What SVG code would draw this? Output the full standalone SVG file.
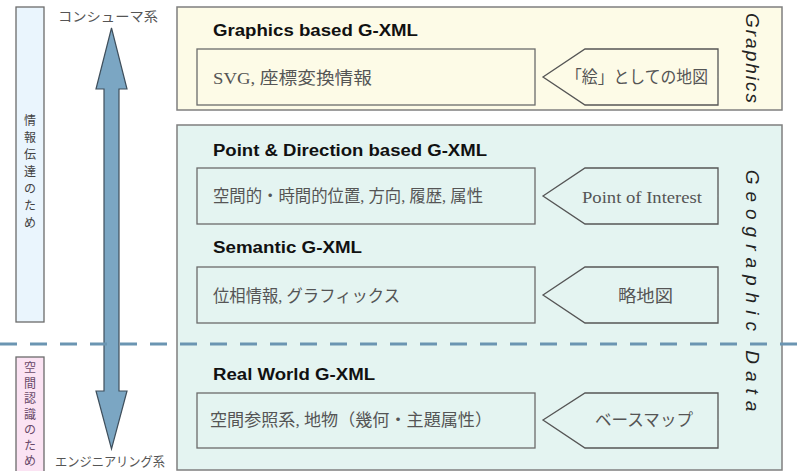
<svg xmlns="http://www.w3.org/2000/svg" width="805" height="471" viewBox="0 0 805 471">
<style>
.panel{stroke:#7f7f7f;stroke-width:1.5}
.box{fill:none;stroke:#6b6b6b;stroke-width:1.3}
.pent{fill:none;stroke:#555;stroke-width:1.3}
.title{font-family:"Liberation Sans",Arial,sans-serif;font-weight:bold;font-size:16px;fill:#111}
.body{font-family:"Liberation Serif","Noto Sans CJK JP",serif;font-size:16.5px;fill:#555}
.side{font-family:"Liberation Sans",Arial,sans-serif;font-style:italic;font-size:19px;fill:#222}
.vt{font-family:"Noto Sans CJK JP",sans-serif;font-size:12px;fill:#444}
.vt2{font-family:"Noto Sans CJK JP",sans-serif;font-size:12px;fill:#6a4a6a}
.sys{font-family:"Noto Sans CJK JP",sans-serif;font-size:13px;fill:#555}
</style>
<rect width="805" height="471" fill="#ffffff"/>

<g id="bar-info">
<rect x="16" y="7" width="28" height="315" fill="#eaf5fd" stroke="#6b6b6b" stroke-width="1.3"/>
<text class="vt" text-anchor="middle"><tspan x="30" y="125">情</tspan><tspan x="30" dy="17">報</tspan><tspan x="30" dy="17">伝</tspan><tspan x="30" dy="17">達</tspan><tspan x="30" dy="17">の</tspan><tspan x="30" dy="17">た</tspan><tspan x="30" dy="17">め</tspan></text>
</g>

<g id="bar-space">
<rect x="16" y="357" width="28" height="120" fill="#fbe3f3" stroke="#6b6b6b" stroke-width="1.3"/>
<text class="vt2" text-anchor="middle"><tspan x="30" y="372">空</tspan><tspan x="30" dy="15.5">間</tspan><tspan x="30" dy="15.5">認</tspan><tspan x="30" dy="15.5">識</tspan><tspan x="30" dy="15.5">の</tspan><tspan x="30" dy="15.5">た</tspan><tspan x="30" dy="15.5">め</tspan></text>
</g>

<g id="double-arrow">
<polygon points="111.5,28 127,89 119,89 119,391 127,391 111.5,449 96,391 104,391 104,89 96,89" fill="#7ba6c3" stroke="#3f4f5c" stroke-width="1.2"/>
<text class="sys" x="58" y="21" textLength="100" lengthAdjust="spacingAndGlyphs">コンシューマ系</text>
<text class="sys" x="55" y="466" textLength="110" lengthAdjust="spacingAndGlyphs">エンジニアリング系</text>
</g>

<g id="graphics-panel">
<rect class="panel" x="177" y="7" width="605" height="103" fill="#fdfbe7"/>
<text class="side" transform="translate(746,59) rotate(90)" text-anchor="middle" letter-spacing="2">Graphics</text>
</g>

<g id="geo-panel">
<rect class="panel" x="177" y="125" width="605" height="345" fill="#e4f4f1"/>
<text class="side" transform="translate(746,294) rotate(90)" text-anchor="middle" letter-spacing="7">Geographic Data</text>
</g>

<g id="graphics-gxml">
<text class="title" x="213" y="36" textLength="205" lengthAdjust="spacingAndGlyphs">Graphics based G-XML</text>
<rect class="box" x="197" y="49" width="338" height="56"/>
<text class="body" x="213" y="84" textLength="159" lengthAdjust="spacingAndGlyphs">SVG, 座標変換情報</text>
</g>
<g id="graphics-src">
<polygon class="pent" points="543,77 585,49 718,49 718,105 585,105"/>
<text class="body" x="566" y="83" textLength="142" lengthAdjust="spacingAndGlyphs">「絵」としての地図</text>
</g>

<g id="point-gxml">
<text class="title" x="213" y="156" textLength="274" lengthAdjust="spacingAndGlyphs">Point &amp; Direction based G-XML</text>
<rect class="box" x="197" y="168" width="338" height="56"/>
<text class="body" x="213" y="202" textLength="270" lengthAdjust="spacingAndGlyphs">空間的・時間的位置, 方向, 履歴, 属性</text>
</g>
<g id="point-src">
<polygon class="pent" points="543,196 585,168 718,168 718,224 585,224"/>
<text class="body" x="582" y="203" textLength="120" lengthAdjust="spacingAndGlyphs">Point of Interest</text>
</g>

<g id="semantic-gxml">
<text class="title" x="213" y="253" textLength="149" lengthAdjust="spacingAndGlyphs">Semantic G-XML</text>
<rect class="box" x="197" y="267" width="338" height="56"/>
<text class="body" x="213" y="302" textLength="187" lengthAdjust="spacingAndGlyphs">位相情報, グラフィックス</text>
</g>
<g id="semantic-src">
<polygon class="pent" points="543,295 585,267 718,267 718,323 585,323"/>
<text class="body" x="618" y="302" textLength="55" lengthAdjust="spacingAndGlyphs">略地図</text>
</g>

<g id="real-gxml">
<text class="title" x="213" y="380" textLength="162" lengthAdjust="spacingAndGlyphs">Real World G-XML</text>
<rect class="box" x="197" y="393" width="338" height="55"/>
<text class="body" x="210" y="426" textLength="282" lengthAdjust="spacingAndGlyphs">空間参照系, 地物（幾何・主題属性）</text>
</g>
<g id="real-src">
<polygon class="pent" points="543,420 585,393 718,393 718,448 585,448"/>
<text class="body" x="595" y="426" textLength="98" lengthAdjust="spacingAndGlyphs">ベースマップ</text>
</g>

<g id="connectors">
<line x1="0" y1="344" x2="805" y2="344" stroke="#6b95b2" stroke-width="3" stroke-dasharray="17,13"/>
</g>
</svg>
